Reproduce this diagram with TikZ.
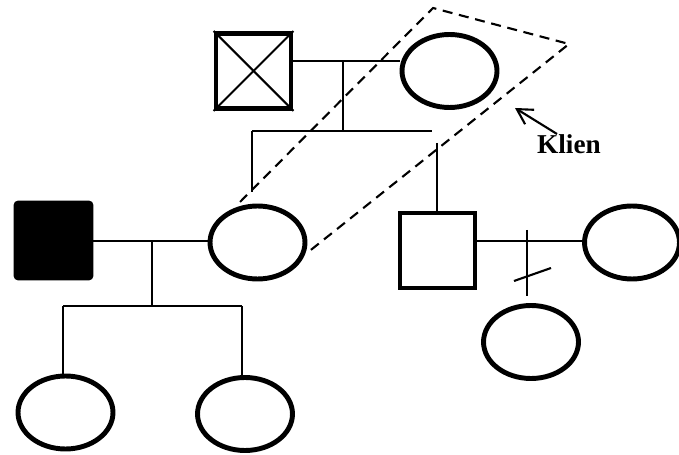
\documentclass[tikz,border=0pt]{standalone}
\usepackage{fontspec}
\setmainfont{Liberation Serif}
\usetikzlibrary{shapes.geometric}
\usetikzlibrary{arrows.meta}

\begin{document}
\begin{tikzpicture}[x=0.02cm,y=-0.02cm,
  male/.style={draw,line width=2.8pt,minimum size=1.5cm,inner sep=0pt},
  female/.style={ellipse,draw,line width=2.8pt,minimum width=1.9cm,minimum height=1.46cm,inner sep=0pt},
  affected/.style={male,fill=black,rounded corners=1.5pt},
  link/.style={line width=1.2pt},
  frame/.style={line width=1.2pt,dash pattern=on 5.7pt off 3.8pt}]
\useasboundingbox (0,0) rectangle (679,455);
\node[male](gf) at (253.5,71){};
\node[female](gm) at (449.5,71){};
\draw[link](gf.north west) -- (gf.south east);
\draw[link](gf.south west) -- (gf.north east);
\coordinate(m1) at (343,61);
\coordinate(s1) at (343,131);
\coordinate(sl) at (252,131);
\coordinate(sr) at (432,131);
\coordinate(sl2) at (252,192);
\coordinate(sr2) at (437,143);
\draw[link](gf.east |- m1) -- (gm.west |- m1);
\draw[link](m1) -- (s1);
\draw[link](sl) -- (sr);
\draw[link](sl) -- (sl2);
\node[affected](fa) at (53.5,240.5){};
\node[female](mo) at (257.5,242.5){};
\node[male](un) at (437.5,250.5){};
\node[female](wi) at (632,242.5){};
\draw[link](sr2) -- (un.north -| sr2);
\coordinate(m2) at (152,241);
\coordinate(c2) at (152,306);
\draw[link](fa.east |- m2) -- (mo.west |- m2);
\draw[link](m2) -- (c2);
\node[female](d1) at (65.5,412.5){};
\node[female](d2) at (245,414){};
\coordinate(cl) at (63,306);
\coordinate(cr) at (242,306);
\draw[link](cl) -- (cr);
\draw[link](cl) -- (d1.north -| cl);
\draw[link](cr) -- (d2.north -| cr);
\coordinate(m3) at (527,241);
\coordinate(v1) at (527,230);
\coordinate(v2) at (527,296);
\draw[link](un.east |- m3) -- (wi.west |- m3);
\draw[link](v1) -- (v2);
\coordinate(x1) at (514,281);
\coordinate(x2) at (551,268);
\draw[link](x1) -- (x2);
\node[female](ch) at (531,342){};
\coordinate(p1) at (240,202);
\coordinate(p2) at (433,8);
\coordinate(p3) at (569,44);
\coordinate(p4) at (307,253);
\draw[frame](p1) -- (p2) -- (p3) -- (p4);
\node[anchor=base,font=\fontsize{15.5pt}{18pt}\selectfont\bfseries](kl) at (569,153.5){Klien};
\coordinate(at) at (557,134);
\draw[link,-{Straight Barb[length=3mm,width=3.4mm]}](at) -- (515,108);
\end{tikzpicture}
\end{document}
